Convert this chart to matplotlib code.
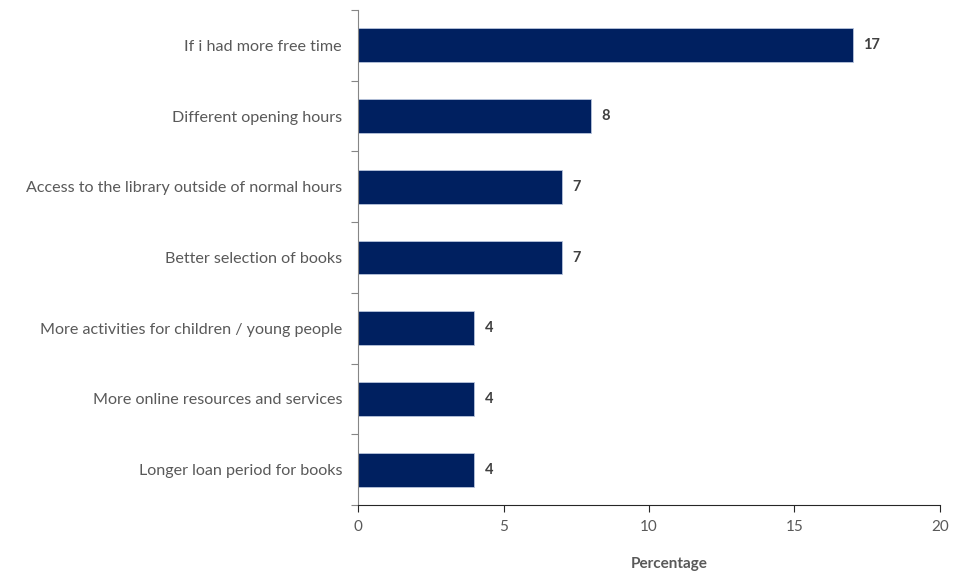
import matplotlib
matplotlib.use("Agg")
import matplotlib.pyplot as plt
import numpy as np

categories = [
    "If i had more free time",
    "Different opening hours",
    "Access to the library outside of normal hours",
    "Better selection of books",
    "More activities for children / young people",
    "More online resources and services",
    "Longer loan period for books",
]
values = [17, 8, 7, 7, 4, 4, 4]
xticks = [0, 5, 10, 15, 20]

plt.rcParams['font.family'] = ['Lato', 'DejaVu Sans']

fig = plt.figure(figsize=(9.62, 5.72), dpi=100)
ax = fig.add_axes([358/962, 67/572, (940-358)/962, (505-10)/572])

n = len(categories)
ypos = np.arange(n)
bars = ax.barh(ypos, values, height=0.48, color='#002060', edgecolor='#b8c4dc', linewidth=0.6)
ax.set_ylim(n - 0.5, -0.5)
ax.set_xlim(0, 20)

ax.set_yticks(ypos)
ax.set_yticklabels(categories, fontsize=11.6, color='#595959')
ax.tick_params(axis='y', which='major', length=0, pad=11.5)
ax.set_yticks(np.arange(n + 1) - 0.5, minor=True)
ax.tick_params(axis='y', which='minor', length=5, width=0.8, color='#868686', direction='out')

ax.set_xticks(xticks)
ax.set_xticklabels([str(t) for t in xticks], fontsize=11, color='#595959')
ax.tick_params(axis='x', length=5, width=0.8, color='#262626', direction='out', pad=6)

for s in ['top', 'right']:
    ax.spines[s].set_visible(False)
ax.spines['left'].set_color('#868686')
ax.spines['left'].set_linewidth(0.8)
ax.spines['bottom'].set_color('#262626')
ax.spines['bottom'].set_linewidth(0.8)

for y, v in zip(ypos, values):
    ax.text(v + 0.35, y, str(v), va='center', ha='left', fontsize=10.5,
            fontweight='bold', color='#404040')

ax.set_xlabel('Percentage', fontsize=11, fontweight='bold', color='#595959', labelpad=16)
ax.xaxis.set_label_coords(0.535, -0.105)

fig.savefig('out.png', dpi=100)
